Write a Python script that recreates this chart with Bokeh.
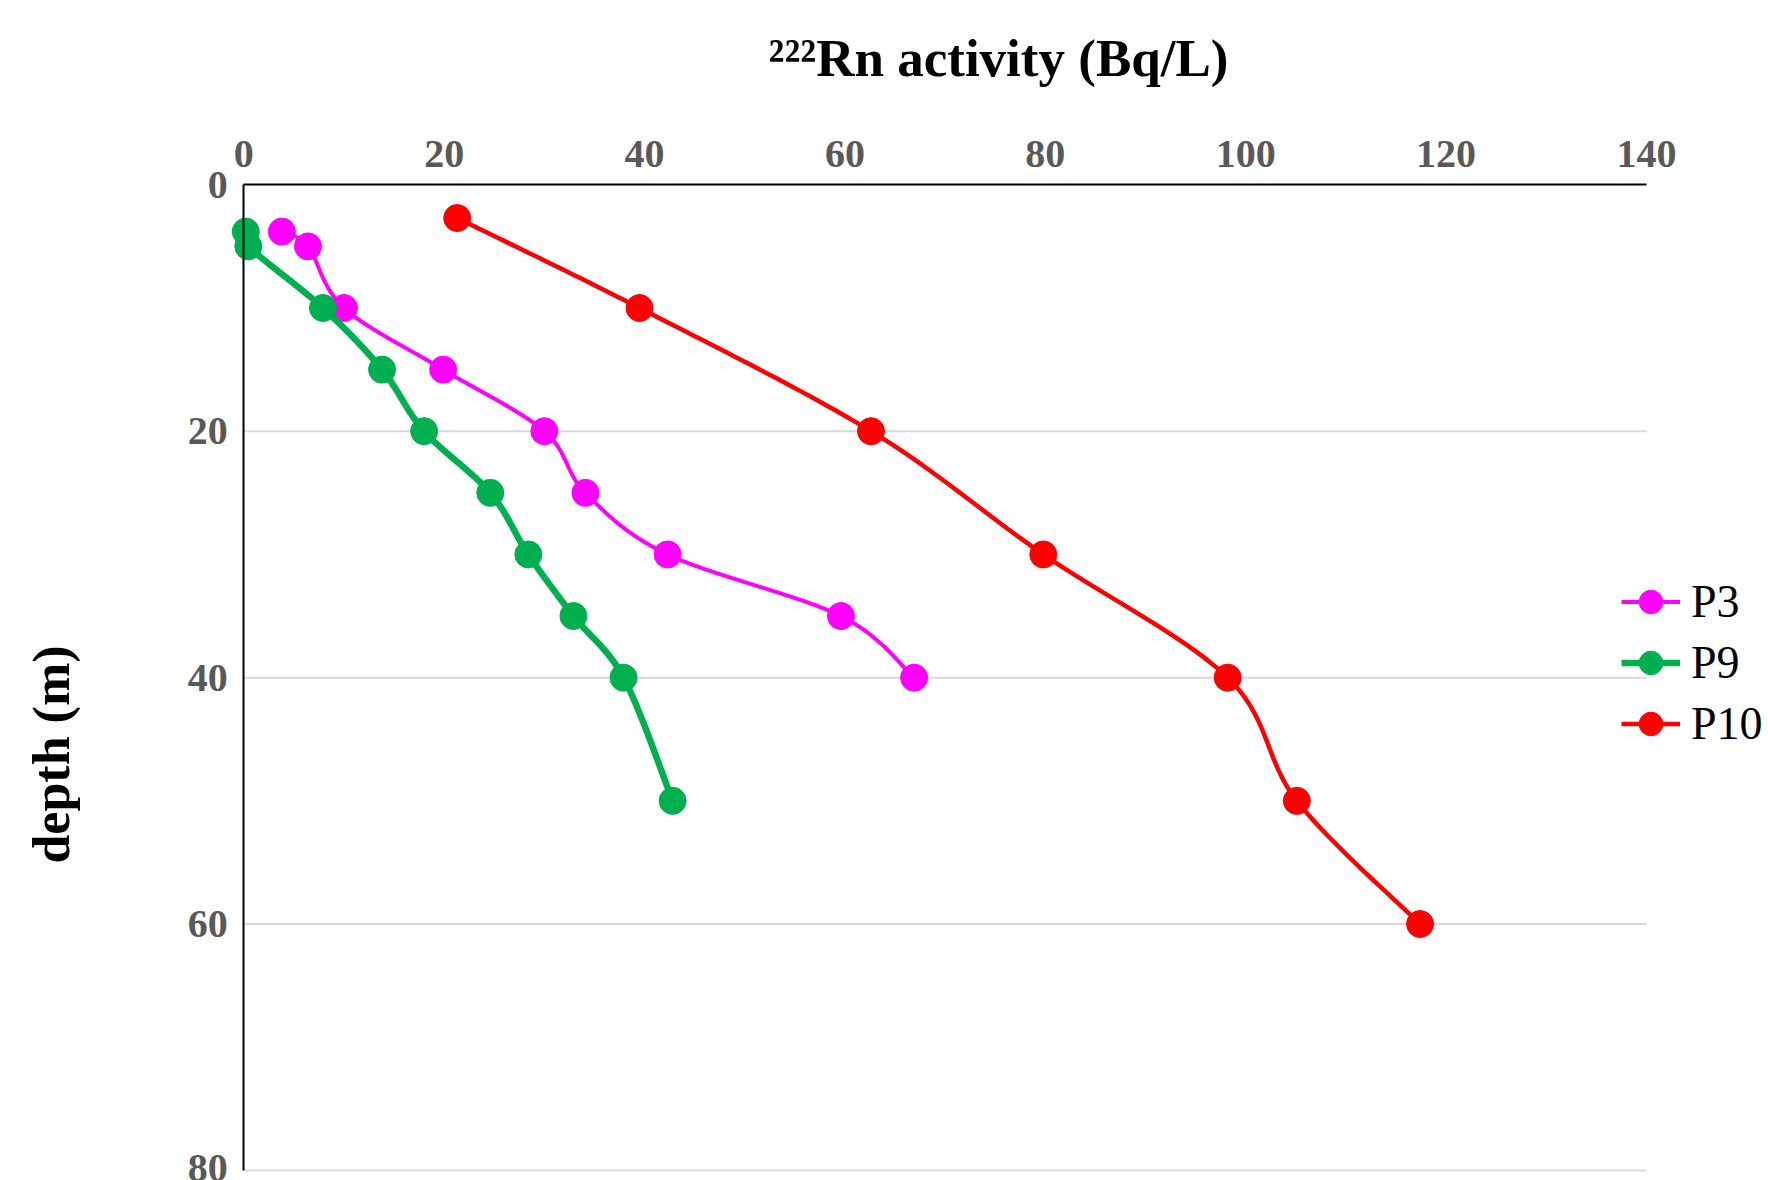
import numpy as np
from bokeh.plotting import figure
from bokeh.models import Range1d, FixedTicker, Label, Legend, LegendItem
from bokeh.embed import file_html
from bokeh.resources import INLINE

# ---- data ----
p3_activity = [3.8, 6.4, 10.0, 19.9, 30.0, 34.1, 42.3, 59.6, 66.9]
p3_depth = [3.8, 5, 10, 15, 20, 25, 30, 35, 40]
p9_activity = [0.2, 0.45, 7.9, 13.8, 18.0, 24.6, 28.4, 32.9, 37.9, 42.8]
p9_depth = [3.8, 5, 10, 15, 20, 25, 30, 35, 40, 50]
p10_activity = [21.3, 39.5, 62.6, 79.8, 98.2, 105.1, 117.4]
p10_depth = [2.7, 10, 20, 30, 40, 50, 60]
x_ticks = [0, 20, 40, 60, 80, 100, 120, 140]
y_ticks = [0, 20, 40, 60, 80]

SERIF = "Liberation Serif"
W, H = 1768, 1180
# plot-area placement in pixels (layout only)
LEFT, RIGHT, TOP, BOTTOM = 243.3, 1646.0, 184.3, 1170.0
X_MIN, X_MAX = x_ticks[0], x_ticks[-1]
Y_MIN, Y_MAX = y_ticks[0], y_ticks[-1]
kx = (RIGHT - LEFT) / (X_MAX - X_MIN)
ky = (BOTTOM - TOP) / (Y_MAX - Y_MIN)
x_range = Range1d(X_MIN - LEFT / kx, X_MIN + (W - LEFT) / kx)
y_range = Range1d(Y_MIN + (H - TOP) / ky, Y_MIN - TOP / ky)


def px_to_data(px, py):
    return X_MIN + (px - LEFT) / kx, Y_MIN + (py - TOP) / ky


def smooth(xs, ys, n=30):
    """Excel-style smoothed line (Bezier through points, Catmull-Rom controls)."""
    P = np.column_stack([xs, ys]).astype(float)
    m = len(P)
    out = [P[0]]
    t = np.linspace(0, 1, n)[1:]
    for i in range(m - 1):
        p0 = P[i - 1] if i > 0 else P[i]
        p1 = P[i]
        p2 = P[i + 1]
        p3 = P[i + 2] if i + 2 < m else P[i + 1]
        c1 = p1 + (p2 - p0) / 6.0
        c2 = p2 - (p3 - p1) / 6.0
        for tt in t:
            b = ((1 - tt) ** 3) * p1 + 3 * ((1 - tt) ** 2) * tt * c1 + 3 * (1 - tt) * tt ** 2 * c2 + tt ** 3 * p2
            out.append(b)
    out = np.array(out)
    return out[:, 0], out[:, 1]


p = figure(width=W, height=H, output_backend="svg", toolbar_location=None,
           x_range=x_range, y_range=y_range, x_axis_location="above")
p.min_border = 0
p.outline_line_color = None
p.background_fill_color = "white"
p.border_fill_color = "white"
p.xgrid.visible = False
p.ygrid.visible = False

# horizontal gridlines, limited to the axis extent
grid_y = [v for v in y_ticks if v != 0]
p.segment(x0=[X_MIN] * len(grid_y), x1=[X_MAX] * len(grid_y), y0=grid_y, y1=grid_y,
          line_color="#d9d9d9", line_width=2)

for ax in (p.xaxis[0], p.yaxis[0]):
    ax.fixed_location = 0
    ax.major_tick_line_color = None
    ax.minor_tick_line_color = None
    ax.axis_line_color = "black"
    ax.axis_line_width = 2
    ax.major_label_text_font = SERIF
    ax.major_label_text_font_style = "bold"
    ax.major_label_text_font_size = "40px"
    ax.major_label_text_color = "#595959"
p.xaxis[0].ticker = FixedTicker(ticks=x_ticks)
p.yaxis[0].ticker = FixedTicker(ticks=y_ticks)
p.xaxis[0].bounds = (X_MIN, X_MAX)
p.yaxis[0].bounds = (Y_MIN, Y_MAX)
p.xaxis[0].major_label_standoff = 12
p.yaxis[0].major_label_standoff = 10

series = [
    ("P3", p3_activity, p3_depth, "#ff00ff", 4),
    ("P9", p9_activity, p9_depth, "#00b050", 6.5),
    ("P10", p10_activity, p10_depth, "#ff0000", 4.5),
]
items = []
for name, xs, ys, col, lw in series:
    sx, sy = smooth(xs, ys)
    r1 = p.line(sx, sy, line_color=col, line_width=lw)
    r2 = p.scatter(xs, ys, size=27, marker="circle", fill_color=col, line_color=col)
    items.append(LegendItem(label=name, renderers=[r1, r2]))

legend = Legend(items=items, location=(1621, 426), orientation="vertical",
                padding=0, margin=0, spacing=0,
                glyph_width=59, glyph_height=61, label_height=46,
                label_standoff=11,
                label_text_font=SERIF, label_text_font_size="46px", label_text_color="black",
                background_fill_alpha=0, border_line_alpha=0)
p.add_layout(legend, "center")

tx, ty = px_to_data(998, 57)
title = Label(x=tx, y=ty, text="²²²Rn activity (Bq/L)", text_align="center",
              text_baseline="alphabetic", text_font=SERIF, text_font_style="bold",
              text_font_size="53px", text_color="black")
p.add_layout(title)

lx, ly = px_to_data(51, 754)
ylab = Label(x=lx, y=ly, text="depth (m)", angle=np.pi / 2, text_align="center",
             text_baseline="middle", text_font=SERIF, text_font_style="bold",
             text_font_size="52px", text_color="black")
p.add_layout(ylab)

open("out.html", "w").write(file_html(p, INLINE))
